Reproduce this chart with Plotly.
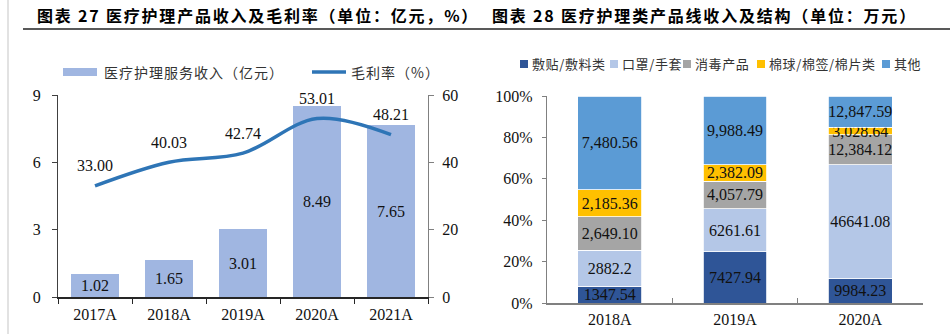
import plotly.graph_objects as go

W, H = 950, 334

# ---------------- Left chart data ----------------
years = ["2017A", "2018A", "2019A", "2020A", "2021A"]
revenue = [1.02, 1.65, 3.01, 8.49, 7.65]            # 医疗护理服务收入（亿元）
margin = [33.00, 40.03, 42.74, 53.01, 48.21]        # 毛利率（%）
revenue_labels = ["1.02", "1.65", "3.01", "8.49", "7.65"]
margin_labels = ["33.00", "40.03", "42.74", "53.01", "48.21"]
left_y_ticks = [0, 3, 6, 9]
right_y_ticks = [0, 20, 40, 60]

# ---------------- Right chart data ----------------
cats = ["2018A", "2019A", "2020A"]
series_names = ["敷贴/敷料类", "口罩/手套", "消毒产品", "棉球/棉签/棉片类", "其他"]
dressing = [1347.54, 7427.94, 9984.23]
mask = [2882.2, 6261.61, 46641.08]
disinfect = [2649.10, 4057.79, 12384.12]
cotton = [2185.36, 2382.09, 3028.64]
other = [7480.56, 9988.49, 12847.59]
dressing_labels = ["1347.54", "7427.94", "9984.23"]
mask_labels = ["2882.2", "6261.61", "46641.08"]
disinfect_labels = ["2,649.10", "4,057.79", "12,384.12"]
cotton_labels = ["2,185.36", "2,382.09", "3,028.64"]
other_labels = ["7,480.56", "9,988.49", "12,847.59"]
pct_ticks = [0, 20, 40, 60, 80, 100]
pct_tick_labels = ["0%", "20%", "40%", "60%", "80%", "100%"]

# ---------------- styles ----------------
BAR_COLOR = "#A0B6E1"
LINE_COLOR = "#2E75B6"
SERIES_COLORS = ["#2F5597", "#B4C7E7", "#A5A5A5", "#FFC000", "#5B9BD5"]
SERIF = "Liberation Serif, Times New Roman, serif"
CJK = "Noto Sans CJK SC, sans-serif"


def px(x):
    return x / W


def py(y):
    return 1 - y / H


fig = go.Figure()

# Left: bars
fig.add_trace(go.Bar(
    x=years, y=revenue, text=revenue_labels, name="医疗护理服务收入（亿元）",
    marker=dict(color=BAR_COLOR, line=dict(width=0)),
    textposition="inside", insidetextanchor="middle", constraintext="none", textangle=0,
    textfont=dict(family=SERIF, size=16, color="#111111"),
    width=0.66, xaxis="x", yaxis="y", showlegend=False,
))
# Left: line
fig.add_trace(go.Scatter(
    x=years, y=margin, name="毛利率（%）", mode="lines",
    line=dict(color=LINE_COLOR, width=3.5, shape="spline", smoothing=1.0),
    xaxis="x", yaxis="y2", showlegend=False,
))

# Right: stacked 100% bars
series_vals = [dressing, mask, disinfect, cotton, other]
series_labels = [dressing_labels, mask_labels, disinfect_labels, cotton_labels, other_labels]
totals = [sum(v[i] for v in series_vals) for i in range(len(cats))]
for name, vals, labs, col in zip(series_names, series_vals, series_labels, SERIES_COLORS):
    share = [v / t * 100 for v, t in zip(vals, totals)]
    fig.add_trace(go.Bar(
        x=cats, y=share, text=labs, name=name,
        marker=dict(color=col, line=dict(width=0.8, color="#FFFFFF")),
        textposition="inside", insidetextanchor="middle", constraintext="none", textangle=0,
        textfont=dict(family=SERIF, size=16, color="#111111"),
        width=0.51, xaxis="x2", yaxis="y3", showlegend=False,
    ))

annotations = []
# line value labels
for x, v, lab in zip(years, margin, margin_labels):
    annotations.append(dict(
        x=x, y=v, xref="x", yref="y2", text=lab, showarrow=False, yshift=20,
        font=dict(family=SERIF, size=16, color="#111111"),
    ))

# titles
LS = "letter-spacing:1.8px"
annotations.append(dict(
    x=px(35), y=py(15), xref="paper", yref="paper", xanchor="left", yanchor="middle",
    text=f"<span style='{LS}'><b>图表 27 医疗护理产品收入及毛利率（单位：亿元，%）</b></span>",
    showarrow=False, font=dict(family=CJK, size=16, color="#000000"),
))
annotations.append(dict(
    x=px(490), y=py(15), xref="paper", yref="paper", xanchor="left", yanchor="middle",
    text=f"<span style='{LS}'><b>图表 28 医疗护理类产品线收入及结构（单位：万元）</b></span>",
    showarrow=False, font=dict(family=CJK, size=16, color="#000000"),
))

shapes = [
    # left grey page border
    dict(type="line", xref="paper", yref="paper", x0=px(8), x1=px(8), y0=0, y1=1,
         line=dict(color="#D9D9D9", width=1.5)),
    # title underline
    dict(type="line", xref="paper", yref="paper", x0=px(23), x1=1, y0=py(29), y1=py(29),
         line=dict(color="#222222", width=1.6)),
]

# Left legend (custom)
shapes.append(dict(type="rect", xref="paper", yref="paper", x0=px(63), x1=px(97),
                   y0=py(76), y1=py(68), fillcolor=BAR_COLOR, line=dict(width=0)))
annotations.append(dict(
    x=px(102), y=py(72), xref="paper", yref="paper", xanchor="left", yanchor="middle",
    text="<span style='letter-spacing:1px'>医疗护理服务收入（亿元）</span>", showarrow=False,
    font=dict(family=CJK, size=14, color="#333333"),
))
shapes.append(dict(type="line", xref="paper", yref="paper", x0=px(312), x1=px(346),
                   y0=py(72), y1=py(72), line=dict(color=LINE_COLOR, width=3.5)))
annotations.append(dict(
    x=px(349), y=py(72), xref="paper", yref="paper", xanchor="left", yanchor="middle",
    text="<span style='letter-spacing:1px'>毛利率（%）</span>", showarrow=False,
    font=dict(family=CJK, size=14, color="#333333"),
))

# Right legend (custom)
legend_x = [520, 610, 683, 757, 882]
for lx, name, col in zip(legend_x, series_names, SERIES_COLORS):
    shapes.append(dict(type="rect", xref="paper", yref="paper", x0=px(lx), x1=px(lx + 8),
                       y0=py(68), y1=py(60), fillcolor=col, line=dict(width=0)))
    annotations.append(dict(
        x=px(lx + 10), y=py(64), xref="paper", yref="paper", xanchor="left", yanchor="middle",
        text=f"<span style='letter-spacing:0.6px'>{name}</span>", showarrow=False,
        font=dict(family=CJK, size=13, color="#333333"),
    ))

tickfont = dict(family=SERIF, size=16, color="#111111")

fig.update_layout(
    template="none",
    width=W, height=H,
    margin=dict(l=0, r=0, t=0, b=0),
    paper_bgcolor="white", plot_bgcolor="rgba(0,0,0,0)",
    barmode="stack",
    showlegend=False,
    xaxis=dict(
        domain=[px(58), px(428)], anchor="y", type="category", range=[-0.5, 4.5],
        tickson="boundaries", ticks="outside", ticklen=5, tickcolor="#262626", tickwidth=1.3,
        showline=True, linecolor="#262626", linewidth=1.5, showgrid=False, zeroline=False,
        tickfont=tickfont, ticklabelstandoff=2, automargin=False,
    ),
    yaxis=dict(
        domain=[py(297), py(95)], anchor="x", range=[0, 9], tickvals=left_y_ticks,
        ticks="outside", ticklen=5, tickcolor="#404040", showline=True, linecolor="#404040",
        linewidth=1.3, showgrid=False, zeroline=False, tickfont=tickfont,
        ticklabelstandoff=8, automargin=False,
    ),
    yaxis2=dict(
        overlaying="y", side="right", anchor="x", range=[0, 60], tickvals=right_y_ticks,
        ticks="outside", ticklen=5, tickcolor="#808080", showline=True, linecolor="#808080",
        linewidth=1.3, showgrid=False, zeroline=False, tickfont=tickfont,
        ticklabelstandoff=5, automargin=False,
    ),
    xaxis2=dict(
        domain=[px(547), px(923)], anchor="y3", type="category", range=[-0.5, 2.5],
        tickson="boundaries", ticks="inside", ticklen=5, tickcolor="#808080", tickwidth=1.3,
        showline=True, linecolor="#808080", linewidth=1.8, showgrid=False, zeroline=False,
        tickfont=tickfont, ticklabelstandoff=1, automargin=False,
    ),
    yaxis3=dict(
        domain=[py(303), py(96)], anchor="x2", range=[0, 100], tickmode="array",
        tickvals=pct_ticks, ticktext=pct_tick_labels,
        ticks="outside", ticklen=4, tickcolor="#808080", showline=True,
        linecolor="#808080", linewidth=1.3, showgrid=False, zeroline=False,
        tickfont=tickfont, ticklabelstandoff=6, automargin=False,
    ),
    annotations=annotations,
    shapes=shapes,
)

fig.write_html("out.html", config={"displayModeBar": False})
